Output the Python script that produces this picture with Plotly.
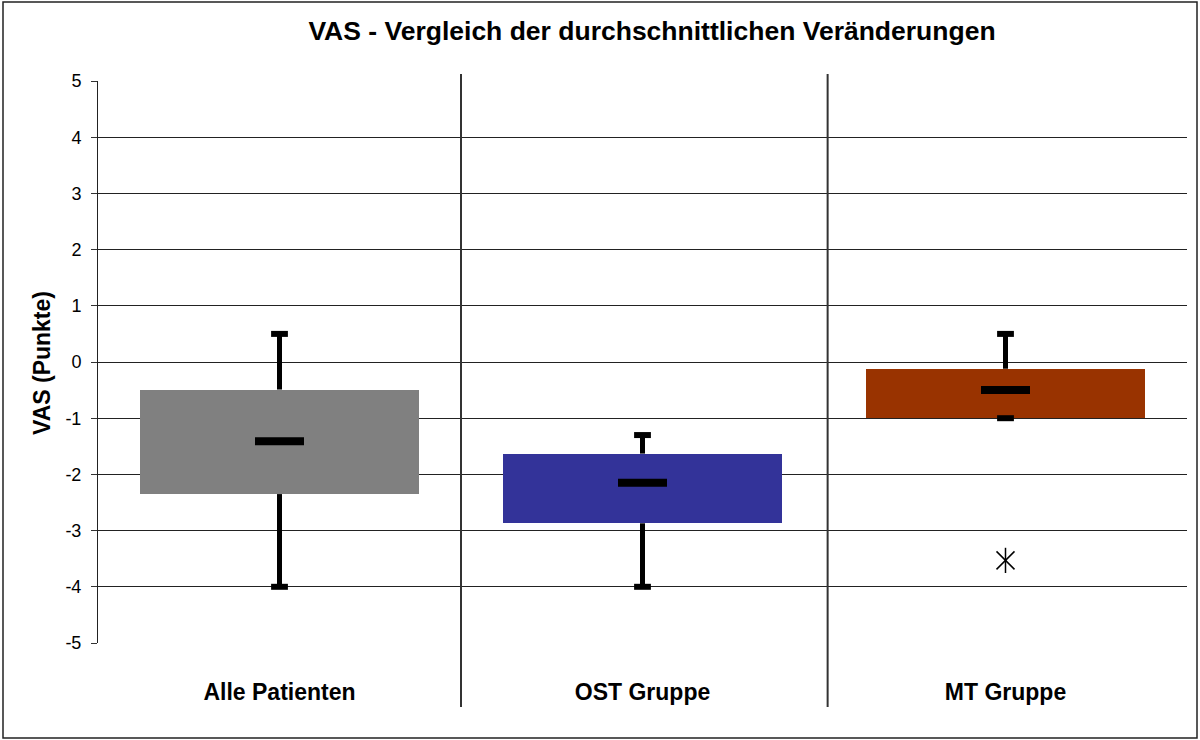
import plotly.graph_objects as go

categories = ["Alle Patienten", "OST Gruppe", "MT Gruppe"]
q1 = [-2.35, -2.87, -1.0]
q3 = [-0.49, -1.63, -0.12]
median = [-1.41, -2.15, -0.5]
whisker_low = [-4.0, -4.0, -1.0]
whisker_high = [0.5, -1.3, 0.5]
outlier_cat = [2]
outlier_val = [-3.53]
colors = ["#808080", "#333399", "#993300"]
y_ticks = [5, 4, 3, 2, 1, 0, -1, -2, -3, -4, -5]

xs = list(range(len(categories)))
fig = go.Figure()

# boxes
fig.add_trace(go.Bar(
    x=xs, y=[h - l for h, l in zip(q3, q1)], base=q1,
    marker=dict(color=colors, line=dict(width=0)),
    width=0.77, showlegend=False, hoverinfo="skip"))

# whiskers
for i in xs:
    fig.add_trace(go.Scatter(x=[i, i], y=[q3[i], whisker_high[i]], mode="lines",
                             line=dict(color="black", width=5), showlegend=False))
    if whisker_low[i] < q1[i]:
        fig.add_trace(go.Scatter(x=[i, i], y=[q1[i], whisker_low[i]], mode="lines",
                                 line=dict(color="black", width=5), showlegend=False))

# caps
fig.add_trace(go.Scatter(x=xs + xs, y=whisker_high + whisker_low, mode="markers",
                         marker=dict(symbol="line-ew", size=12, line=dict(color="black", width=6)),
                         showlegend=False))
# medians
fig.add_trace(go.Scatter(x=xs, y=median, mode="markers",
                         marker=dict(symbol="line-ew", size=35, line=dict(color="black", width=8)),
                         showlegend=False))
# outliers (6-armed asterisk)
fig.add_trace(go.Scatter(x=outlier_cat, y=outlier_val, mode="markers",
                         marker=dict(symbol="x-thin", size=18, line=dict(color="black", width=1.5)),
                         showlegend=False))
fig.add_trace(go.Scatter(x=outlier_cat, y=outlier_val, mode="markers",
                         marker=dict(symbol="line-ns", size=18, line=dict(color="black", width=1.5)),
                         showlegend=False))

# separators
for sx in [0.5, 1.51]:
    fig.add_shape(type="line", xref="x", yref="paper", x0=sx, x1=sx, y0=-0.114, y1=1.0125,
                  line=dict(color="#333333", width=2))
# outer border
fig.add_shape(type="rect", xref="paper", yref="paper",
              x0=-95/1089, x1=1+10/1089, y0=-95/562, y1=1+79/562,
              line=dict(color="#222222", width=1.5))

# y axis title
fig.add_annotation(text="<b>VAS (Punkte)</b>", xref="paper", yref="paper",
                   x=(42-98)/1089, y=(643-363)/562, textangle=-90,
                   showarrow=False, xanchor="center", yanchor="middle",
                   font=dict(size=23, color="black"))

fig.update_layout(
    width=1200, height=740,
    margin=dict(l=98, r=13, t=81, b=97),
    paper_bgcolor="white", plot_bgcolor="white",
    font=dict(family="Liberation Sans, Arial, sans-serif", color="black"),
    title=dict(text="<b>VAS - Vergleich der durchschnittlichen Veränderungen</b>",
               x=652/1200, xanchor="center", y=1 - 31/740, yanchor="middle",
               font=dict(size=26.5, color="black")),
    bargap=0,
)
fig.update_xaxes(range=[-0.5, 2.5], tickvals=xs,
                 ticktext=["<b>%s</b>" % c for c in categories],
                 tickfont=dict(size=23), ticks="", showgrid=False, zeroline=False,
                 showline=False, ticklabelstandoff=33)
fig.update_yaxes(range=[-5, 5], tickvals=y_ticks, ticktext=[str(v) for v in y_ticks],
                 ticks="outside", ticklen=6,
                 tickcolor="#333333", tickfont=dict(size=18), showgrid=True,
                 gridcolor="#222222", gridwidth=1, zeroline=False,
                 showline=True, linecolor="#222222", linewidth=1,
                 ticklabelstandoff=6)

fig.write_html("out.html", config={"displayModeBar": False},
               post_script="document.body.style.margin='0';")
